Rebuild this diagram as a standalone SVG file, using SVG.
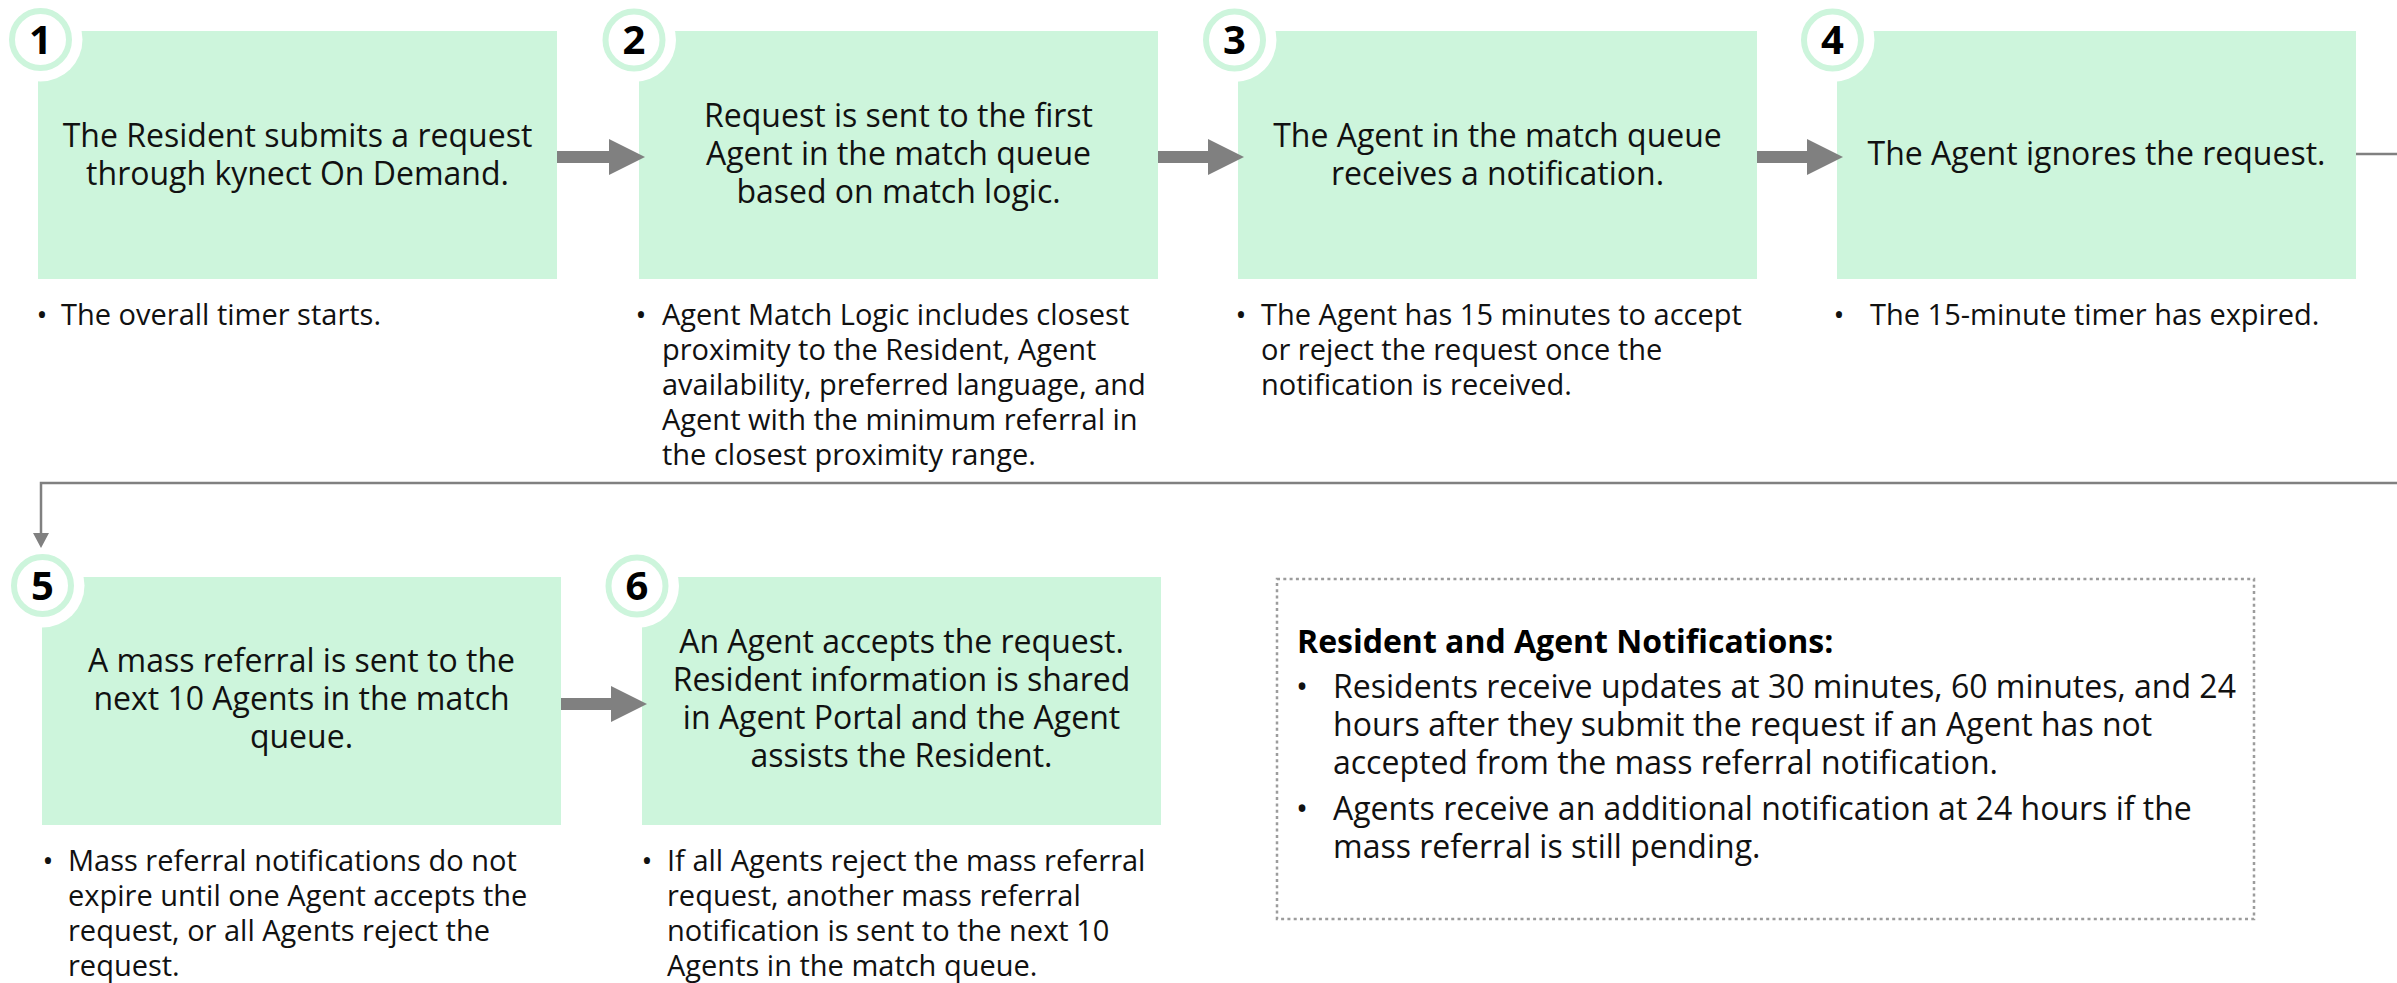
<svg xmlns="http://www.w3.org/2000/svg" width="2397" height="983" viewBox="0 0 2397 983">
  <style>
    .box { fill: #cdf5dc; }
    .halo { fill: #ffffff; }
    .ring { fill: #ffffff; stroke: #cdf5dc; stroke-width: 6; }
    .num { font-family: "Open Sans", "Liberation Sans", sans-serif; font-weight: 700; font-size: 40px; fill: #000; text-anchor: middle; }
    .t { font-family: "Open Sans", "Liberation Sans", sans-serif; font-size: 32px; fill: #111; text-anchor: middle; }
    .b { font-family: "Open Sans", "Liberation Sans", sans-serif; font-size: 29px; fill: #111; }
    .n { font-family: "Open Sans", "Liberation Sans", sans-serif; font-size: 32px; fill: #111; }
    .nt { font-family: "Open Sans", "Liberation Sans", sans-serif; font-size: 32px; font-weight: 700; fill: #000; }
    .dot { text-anchor: middle; }
    .flow { fill: #808080; }
    .link { fill: none; stroke: #808080; stroke-width: 2.5; }
    .frame { fill: none; stroke: #9c9c9c; stroke-width: 2.5; stroke-dasharray: 3 3.3; }
  </style>

  <!-- Step 1 -->
  <g id="step1">
    <rect class="box" x="38" y="31" width="519" height="248"/>
    <circle class="halo" cx="40.5" cy="39.5" r="42"/>
    <circle class="ring" cx="40.5" cy="39.5" r="28.5"/>
    <text class="num" x="40.5" y="53.5">1</text>
    <text class="t" x="297.5" y="147">The Resident submits a request</text>
    <text class="t" x="297.5" y="185">through kynect On Demand.</text>
    <text class="b dot" x="42" y="325">•</text>
    <text class="b" x="61" y="325">The overall timer starts.</text>
  </g>

  <!-- Step 2 -->
  <g id="step2">
    <rect class="box" x="639" y="31" width="519" height="248"/>
    <circle class="halo" cx="634" cy="40" r="42"/>
    <circle class="ring" cx="634" cy="40" r="28.5"/>
    <text class="num" x="634" y="54">2</text>
    <text class="t" x="898.5" y="127">Request is sent to the first</text>
    <text class="t" x="898.5" y="165">Agent in the match queue</text>
    <text class="t" x="898.5" y="203">based on match logic.</text>
    <text class="b dot" x="641" y="325">•</text>
    <text class="b" x="662" y="325">Agent Match Logic includes closest</text>
    <text class="b" x="662" y="360">proximity to the Resident, Agent</text>
    <text class="b" x="662" y="395">availability, preferred language, and</text>
    <text class="b" x="662" y="430">Agent with the minimum referral in</text>
    <text class="b" x="662" y="465">the closest proximity range.</text>
  </g>

  <!-- Step 3 -->
  <g id="step3">
    <rect class="box" x="1238" y="31" width="519" height="248"/>
    <circle class="halo" cx="1234.5" cy="40" r="42"/>
    <circle class="ring" cx="1234.5" cy="40" r="28.5"/>
    <text class="num" x="1234.5" y="54">3</text>
    <text class="t" x="1497.5" y="147">The Agent in the match queue</text>
    <text class="t" x="1497.5" y="185">receives a notification.</text>
    <text class="b dot" x="1241" y="325">•</text>
    <text class="b" x="1261" y="325">The Agent has 15 minutes to accept</text>
    <text class="b" x="1261" y="360">or reject the request once the</text>
    <text class="b" x="1261" y="395">notification is received.</text>
  </g>

  <!-- Step 4 -->
  <g id="step4">
    <rect class="box" x="1837" y="31" width="519" height="248"/>
    <circle class="halo" cx="1832.5" cy="40" r="42"/>
    <circle class="ring" cx="1832.5" cy="40" r="28.5"/>
    <text class="num" x="1832.5" y="54">4</text>
    <text class="t" x="2096.5" y="165">The Agent ignores the request.</text>
    <text class="b dot" x="1839" y="325">•</text>
    <text class="b" x="1870" y="325">The 15-minute timer has expired.</text>
  </g>

  <!-- Step 5 -->
  <g id="step5">
    <rect class="box" x="42" y="577" width="519" height="248"/>
    <circle class="halo" cx="42.5" cy="585.5" r="42"/>
    <circle class="ring" cx="42.5" cy="585.5" r="28.5"/>
    <text class="num" x="42.5" y="599.5">5</text>
    <text class="t" x="301.5" y="672">A mass referral is sent to the</text>
    <text class="t" x="301.5" y="710">next 10 Agents in the match</text>
    <text class="t" x="301.5" y="748">queue.</text>
    <text class="b dot" x="48" y="871">•</text>
    <text class="b" x="68" y="871">Mass referral notifications do not</text>
    <text class="b" x="68" y="906">expire until one Agent accepts the</text>
    <text class="b" x="68" y="941">request, or all Agents reject the</text>
    <text class="b" x="68" y="976">request.</text>
  </g>

  <!-- Step 6 -->
  <g id="step6">
    <rect class="box" x="642" y="577" width="519" height="248"/>
    <circle class="halo" cx="637" cy="586" r="42"/>
    <circle class="ring" cx="637" cy="586" r="28.5"/>
    <text class="num" x="637" y="600">6</text>
    <text class="t" x="901.5" y="653">An Agent accepts the request.</text>
    <text class="t" x="901.5" y="691">Resident information is shared</text>
    <text class="t" x="901.5" y="729">in Agent Portal and the Agent</text>
    <text class="t" x="901.5" y="767">assists the Resident.</text>
    <text class="b dot" x="647" y="871">•</text>
    <text class="b" x="667" y="871">If all Agents reject the mass referral</text>
    <text class="b" x="667" y="906">request, another mass referral</text>
    <text class="b" x="667" y="941">notification is sent to the next 10</text>
    <text class="b" x="667" y="976">Agents in the match queue.</text>
  </g>

  <!-- Notification rules panel -->
  <g id="notifications">
    <rect class="frame" x="1277" y="579" width="977" height="340"/>
    <text class="nt" x="1297" y="653">Resident and Agent Notifications:</text>
    <text class="n dot" x="1302" y="698">•</text>
    <text class="n" x="1333" y="698">Residents receive updates at 30 minutes, 60 minutes, and 24</text>
    <text class="n" x="1333" y="736">hours after they submit the request if an Agent has not</text>
    <text class="n" x="1333" y="774">accepted from the mass referral notification.</text>
    <text class="n dot" x="1302" y="820">•</text>
    <text class="n" x="1333" y="820">Agents receive an additional notification at 24 hours if the</text>
    <text class="n" x="1333" y="858">mass referral is still pending.</text>
  </g>

  <!-- Connectors -->
  <g id="connectors">
    <polygon class="flow" points="557,151 609,151 609,139 645,157 609,175 609,163 557,163"/>
    <polygon class="flow" points="1158,151 1208,151 1208,139 1244,157 1208,175 1208,163 1158,163"/>
    <polygon class="flow" points="1757,151 1807,151 1807,139 1843,157 1807,175 1807,163 1757,163"/>
    <polygon class="flow" points="561,698 611,698 611,686 647,704 611,722 611,710 561,710"/>
    <path class="link" d="M2356,154 H2420 V483 H41 V535"/>
    <polygon class="flow" points="33,533 49,533 41,548"/>
  </g>
</svg>
